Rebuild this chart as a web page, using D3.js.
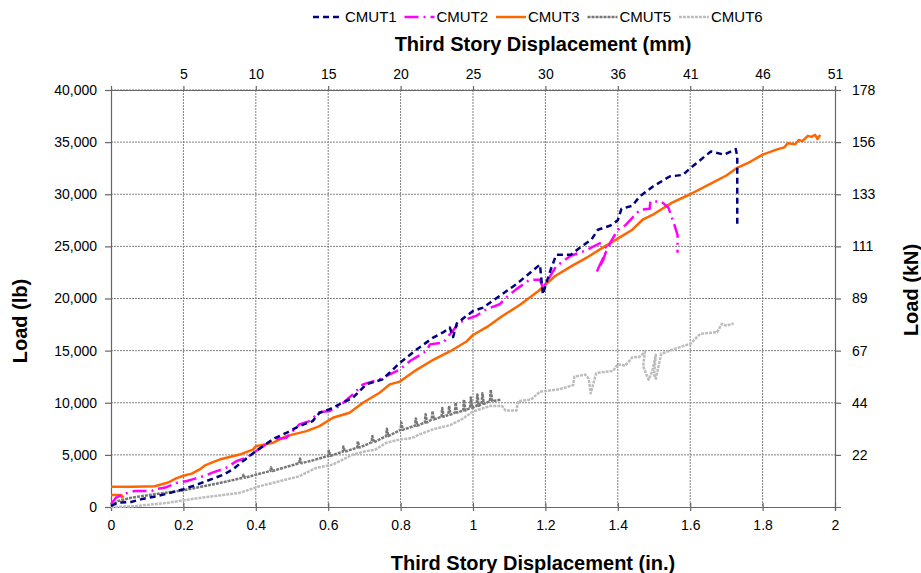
<!DOCTYPE html>
<html>
<head>
<meta charset="utf-8">
<script src="https://cdnjs.cloudflare.com/ajax/libs/d3/7.8.5/d3.min.js"></script>
<style>
  body { margin: 0; background: #fff; }
  svg text { font-family: "Liberation Sans", Arial, sans-serif; fill: #000; }
</style>
</head>
<body>
<div class="chart"></div>
<script>
// series names
var seriesNames = ["CMUT1", "CMUT2", "CMUT3", "CMUT5", "CMUT6"];

// [displacement (in.), load (lb)]
var cmut1 = [[0,100],[0.02,420],[0.055,480],[0.09,800],[0.13,1060],[0.166,1380],[0.2,1700],[0.24,2180],
	[0.28,2700],[0.31,3100],[0.336,3590],[0.364,4390],[0.4,5350],[0.447,6500],[0.484,7100],[0.52,7760],
	[0.557,8240],[0.576,9040],[0.603,9360],[0.631,9840],[0.668,10480],[0.705,11760],[0.75,12240],
	[0.798,13830],[0.844,15100],[0.89,16250],[0.92,16800],[0.936,17210],[0.945,16300],[0.955,17600],
	[0.982,18330],[1.0,18800],[1.028,19130],[1.074,20260],[1.12,21380],[1.157,22450],[1.185,23250],
	[1.193,20380],[1.2,21200],[1.215,22800],[1.23,24200],[1.27,24200],[1.3,25000],[1.327,25640],
	[1.345,26600],[1.38,27000],[1.4,27500],[1.41,28600],[1.44,28900],[1.461,29800],[1.497,30740],
	[1.543,31700],[1.58,31860],[1.6,32500],[1.657,34100],[1.694,33800],[1.726,34330],[1.73,33600],[1.73,27050]];

var cmut2 = [[0,260],[0.014,900],[0.04,1300],[0.066,1540],[0.113,1540],[0.12,1700],[0.15,1860],[0.18,2300],
	[0.21,2500],[0.23,2700],[0.26,3000],[0.28,3300],[0.318,3750],[0.346,4390],[0.373,4710],[0.4,5350],
	[0.447,6470],[0.484,6640],[0.52,7920],[0.548,8240],[0.576,9100],[0.603,9200],[0.631,9680],[0.668,10800],
	[0.696,11760],[0.742,12240],[0.798,13200],[0.826,14000],[0.872,14970],[0.881,15600],[0.918,15770],
	[0.936,16570],[0.963,17690],[0.982,18010],[1.009,18330],[1.037,18970],[1.074,19450],[1.092,20100],
	[1.12,20900],[1.157,21800],[1.185,21800],[1.193,21000],[1.23,23100],[1.25,23600],[1.27,24100],
	[1.31,24580],[1.35,25300],[1.37,24840],[1.36,23700],[1.34,22450],[1.38,25400],[1.4,26600],[1.42,27000],
	[1.461,28500],[1.488,28600],[1.49,29300],[1.52,29300],[1.54,28700],[1.555,27200],[1.565,26100],[1.565,24400]];

// null = break in the line
var cmut3 = [[0,1150],[0.028,1150],[0.033,1000],[0.028,850],null,
	[0,1950],[0.06,1950],[0.121,1990],[0.158,2350],[0.18,2750],[0.2,3000],[0.223,3200],[0.245,3600],
	[0.26,4000],[0.285,4350],[0.3,4550],[0.355,5030],[0.392,5510],[0.4,5830],[0.447,6150],[0.484,6800],
	[0.54,7280],[0.576,7760],[0.613,8560],[0.659,9040],[0.696,10000],[0.742,10960],[0.77,11760],[0.798,12030],
	[0.844,13160],[0.89,14120],[0.936,14920],[0.982,15880],[1.0,16500],[1.04,17300],[1.08,18300],
	[1.13,19400],[1.18,20700],[1.226,22130],[1.272,23100],[1.318,24000],[1.364,25000],[1.41,25960],
	[1.44,26600],[1.47,27600],[1.5,28100],[1.55,29200],[1.6,30000],[1.65,30900],[1.7,31800],[1.728,32500],
	[1.76,33000],[1.8,33800],[1.84,34300],[1.86,34500],[1.87,34900],[1.89,34800],[1.9,35200],[1.91,35100],
	[1.925,35600],[1.935,35500],[1.945,35700],[1.952,35300],[1.959,35700]];

var cmut5 = [[0,100],[0.02,580],[0.057,900],[0.12,1220],[0.2,1600],[0.3,2300],[0.364,2800],[0.366,3100],
	[0.37,2800],[0.4,3100],[0.44,3450],[0.442,3800],[0.446,3450],[0.48,3800],[0.52,4200],[0.522,4650],
	[0.526,4200],[0.56,4500],[0.6,4900],[0.602,5400],[0.606,4900],[0.64,5300],[0.642,5800],[0.646,5300],
	[0.68,5700],[0.682,6300],[0.686,5700],[0.72,6200],[0.722,6800],[0.726,6200],[0.76,6800],[0.762,7500],
	[0.766,6800],[0.8,7400],[0.802,8100],[0.806,7400],[0.84,7800],[0.842,8500],[0.846,7800],[0.867,8100],
	[0.869,8900],[0.873,8100],[0.886,8400],[0.888,9200],[0.892,8400],[0.913,8650],[0.915,9500],[0.919,8650],
	[0.932,8850],[0.934,9700],[0.938,8850],[0.95,9050],[0.952,10000],[0.956,9050],[0.973,9250],[0.975,10300],
	[0.979,9250],[0.992,9500],[0.994,10500],[0.998,9500],[1.01,9700],[1.012,10800],[1.016,9700],[1.024,9900],
	[1.026,10900],[1.03,9900],[1.047,10150],[1.049,11250],[1.053,10150],[1.078,10300]];

var cmut6 = [[0,0],[0.06,60],[0.152,380],[0.244,870],[0.318,1190],[0.355,1350],[0.41,1990],[0.484,2630],
	[0.52,2950],[0.567,3750],[0.613,4070],[0.668,5030],[0.705,5350],[0.73,5500],[0.76,6150],[0.797,6470],
	[0.83,6600],[0.852,6960],[0.889,7440],[0.938,7870],[0.966,8350],[1.0,9150],[1.046,9680],[1.08,9700],
	[1.09,9250],[1.12,9250],[1.125,10150],[1.16,10300],[1.185,11060],[1.24,11300],[1.277,11700],[1.28,12500],
	[1.31,12700],[1.32,12300],[1.325,10900],[1.33,11500],[1.34,12820],[1.351,12900],[1.387,13060],[1.4,13700],
	[1.42,13550],[1.44,14350],[1.46,14400],[1.475,14900],[1.47,13500],[1.485,12200],[1.495,13000],[1.505,14600],
	[1.5,12700],[1.505,12300],[1.52,14700],[1.56,15200],[1.6,15650],[1.628,16610],[1.674,16770],[1.688,17580],
	[1.7,17400],[1.72,17600]];

// axis ticks
var xTicks = [0, 0.2, 0.4, 0.6, 0.8, 1, 1.2, 1.4, 1.6, 1.8, 2];
var yTicks = [0, 5000, 10000, 15000, 20000, 25000, 30000, 35000, 40000];
var mmTickLabels = ["5", "10", "15", "20", "25", "30", "36", "41", "46", "51"];
var kNTickLabels = ["22", "44", "67", "89", "111", "133", "156", "178"];

var colors = ["#000080", "#ff00ff", "#ff6600", "#777777", "#bdbdbd"],
	widths = [2.5, 2.5, 2.5, 2.5, 2.5],
	dashes = ["6,4", "14,5,2,5", null, "3,1", "3,1"];

var margin = {top: 90, right: 86, bottom: 66, left: 111},
	width = 921,
	height = 573,
	w = width - margin.left - margin.right,
	h = height - margin.top - margin.bottom;

var svg = d3.select(".chart").append("svg")
	.attr("width", width)
	.attr("height", height);

var x = d3.scaleLinear().domain([0, 2]).range([0, w]);
var y = d3.scaleLinear().domain([0, 40000]).range([h, 0]);

var g = svg.append("g").attr("transform", "translate(" + margin.left + "," + margin.top + ")");

// grid
g.selectAll(".vgrid").data(xTicks.slice(1, -1)).enter()
	.append("line")
	.attr("x1", function(d) { return x(d); }).attr("x2", function(d) { return x(d); })
	.attr("y1", 0).attr("y2", h)
	.attr("stroke", "#808080").attr("stroke-width", 1).attr("stroke-dasharray", "2,1");
g.selectAll(".hgrid").data(yTicks.slice(1)).enter()
	.append("line")
	.attr("x1", 0).attr("x2", w)
	.attr("y1", function(d) { return y(d); }).attr("y2", function(d) { return y(d); })
	.attr("stroke", "#808080").attr("stroke-width", 1).attr("stroke-dasharray", "2,1");

// axes
var axisColor = "#666";
var bottom = g.append("g").attr("transform", "translate(0," + h + ")")
	.call(d3.axisBottom(x).tickValues(xTicks).tickSize(4).tickPadding(9)
		.tickFormat(function(d) { return d3.format("")(d); }));
bottom.selectAll(".tick line").attr("y1", -4);

var left = g.append("g")
	.call(d3.axisLeft(y).tickValues(yTicks).tickSize(6).tickPadding(8).tickFormat(d3.format(",")));

var top_ = g.append("g")
	.call(d3.axisTop(x).tickValues(xTicks.slice(1)).tickSize(4).tickPadding(7)
		.tickFormat(function(d, i) { return mmTickLabels[i]; }));

var right = g.append("g").attr("transform", "translate(" + w + ",0)")
	.call(d3.axisRight(y).tickValues(yTicks.slice(1)).tickSize(6).tickPadding(11)
		.tickFormat(function(d, i) { return kNTickLabels[i]; }));

[bottom, left, top_, right].forEach(function(a) {
	a.select(".domain").attr("stroke", axisColor).attr("stroke-width", 1.2);
	a.selectAll(".tick line").attr("stroke", axisColor).attr("stroke-width", 1.2);
	a.selectAll("text").style("font-size", "14px").attr("fill", "#000");
});

// lines
var line = d3.line()
	.defined(function(d) { return d != null; })
	.x(function(d) { return x(d[0]); })
	.y(function(d) { return y(d[1]); });

var allData = [cmut6, cmut5, cmut3, cmut2, cmut1],
	order = [4, 3, 2, 1, 0];

allData.forEach(function(data, k) {
	var i = order[k];
	g.append("path")
		.datum(data)
		.attr("d", line)
		.attr("fill", "none")
		.attr("stroke", colors[i])
		.attr("stroke-width", widths[i])
		.attr("stroke-dasharray", dashes[i])
		.attr("stroke-linejoin", "round");
});

// legend
var legend = svg.selectAll(".legend").data(seriesNames).enter()
	.append("g")
	.attr("transform", function(d, i) { return "translate(" + (313 + i * 91.5) + ",17)"; });
legend.append("line")
	.attr("x1", 0).attr("x2", 30).attr("y1", 0).attr("y2", 0)
	.attr("stroke", function(d, i) { return colors[i]; })
	.attr("stroke-width", function(d, i) { return widths[i]; })
	.attr("stroke-dasharray", function(d, i) { return dashes[i]; });
legend.append("text")
	.attr("x", 32).attr("y", 5)
	.style("font-size", "15px")
	.text(function(d) { return d; });

// titles
svg.append("text")
	.attr("x", 543).attr("y", 51)
	.attr("text-anchor", "middle")
	.style("font-size", "20px").style("font-weight", "bold")
	.text("Third Story Displacement (mm)");
svg.append("text")
	.attr("x", 533).attr("y", 570)
	.attr("text-anchor", "middle")
	.style("font-size", "20px").style("font-weight", "bold")
	.text("Third Story Displacement (in.)");
svg.append("text")
	.attr("transform", "translate(27,321) rotate(-90)")
	.attr("text-anchor", "middle")
	.style("font-size", "20px").style("font-weight", "bold")
	.text("Load (lb)");
svg.append("text")
	.attr("transform", "translate(918,290) rotate(-90)")
	.attr("text-anchor", "middle")
	.style("font-size", "20px").style("font-weight", "bold")
	.text("Load (kN)");
</script>
</body>
</html>
